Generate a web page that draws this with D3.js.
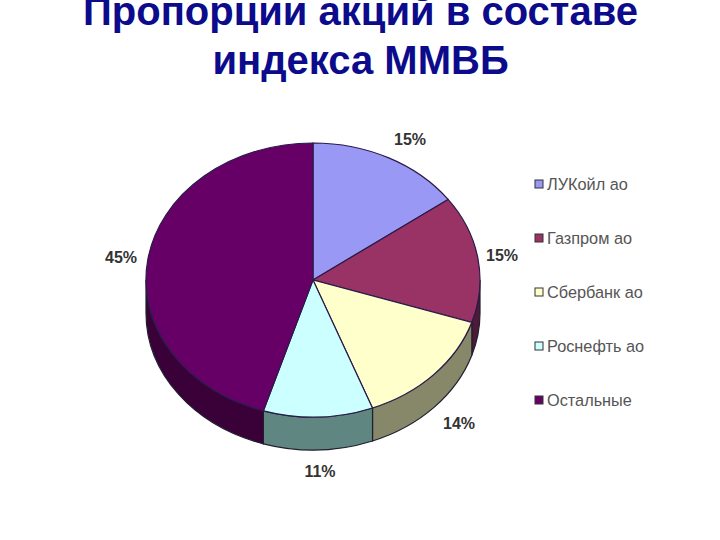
<!DOCTYPE html>
<html lang="ru">
<head>
<meta charset="utf-8">
<script src="https://cdn.jsdelivr.net/npm/d3@7"></script>
<style>html,body{margin:0;padding:0;background:#fff}svg{display:block}</style>
</head>
<body>
<svg id="c" width="720" height="540"></svg>
<script>
const titleLines = ["Пропорции акций в составе", "индекса ММВБ"];
const categories = ["ЛУКойл ао", "Газпром ао", "Сбербанк ао", "Роснефть ао", "Остальные"];
const shares = [15, 15, 14.2, 10.6, 45.2];
const topColors = ["#9999f5", "#993366", "#ffffcc", "#ccffff", "#660066"];
const sideColors = ["#5f5f9f", "#4f1a38", "#87876a", "#5f8680", "#3a0038"];

const svg = d3.select("#c");
const cx = 313, cy = 280, rx = 167, ry = 137, depth = 33;

svg.selectAll("text.title").data(titleLines).join("text")
  .attr("class", "title")
  .attr("x", 360.5).attr("y", (d, i) => 25 + i * 49)
  .attr("text-anchor", "middle")
  .attr("font-family", "Liberation Sans, Arial, sans-serif")
  .attr("font-weight", "bold").attr("font-size", 40).attr("fill", "#0b0b8c")
  .text(d => d);

const pieGen = d3.pie().sort(null).value(d => d);
const arcs = pieGen(shares);
const arcGen = d3.arc().innerRadius(0).outerRadius(1);
const pie = svg.append("g").attr("transform", `translate(${cx},${cy}) scale(${rx},${ry})`);
const d3d = depth / ry;

function wall(a) {
  const lo = Math.max(a.startAngle, Math.PI / 2), hi = Math.min(a.endAngle, 3 * Math.PI / 2);
  if (hi <= lo) return null;
  const s = lo - Math.PI / 2, e = hi - Math.PI / 2;
  const p = d3.path();
  p.arc(0, 0, 1, s, e);
  p.lineTo(Math.cos(e), Math.sin(e) + d3d);
  p.arc(0, d3d, 1, e, s, true);
  p.closePath();
  return p.toString();
}

pie.selectAll("path.wall").data(arcs.filter(a => wall(a))).join("path")
  .attr("class", "wall")
  .attr("d", wall)
  .attr("fill", d => sideColors[d.index])
  .attr("stroke", "#1f1f2f").attr("stroke-width", 1.2).attr("vector-effect", "non-scaling-stroke");

pie.selectAll("path.top").data(arcs).join("path")
  .attr("class", "top")
  .attr("d", arcGen)
  .attr("fill", d => topColors[d.index])
  .attr("stroke", "#2a1a4a").attr("stroke-width", 1.2).attr("vector-effect", "non-scaling-stroke");

const labelPos = [[410,139],[502,255],[459,423],[320,471],[121,257]];
svg.selectAll("text.val").data(arcs).join("text")
  .attr("class", "val")
  .attr("x", (d, i) => labelPos[i][0]).attr("y", (d, i) => labelPos[i][1])
  .attr("dy", "0.35em").attr("text-anchor", "middle")
  .attr("font-family", "Liberation Sans, Arial, sans-serif")
  .attr("font-size", 16).attr("font-weight", "bold").attr("fill", "#333")
  .text(d => Math.round(d.value) + "%");

const legendY = d3.scalePoint().domain(categories).range([184, 400]);
const lg = svg.selectAll("g.lg").data(categories).join("g")
  .attr("class", "lg")
  .attr("transform", d => `translate(535,${legendY(d)})`);
lg.append("rect").attr("x", 0).attr("y", -4).attr("width", 8).attr("height", 8)
  .attr("fill", (d, i) => topColors[i]).attr("stroke", "#333").attr("stroke-width", 1);
lg.append("text").attr("x", 12).attr("dy", "0.35em")
  .attr("font-family", "Liberation Sans, Arial, sans-serif")
  .attr("font-size", 16.3).attr("fill", "#555")
  .text(d => d);
</script>
</body>
</html>
